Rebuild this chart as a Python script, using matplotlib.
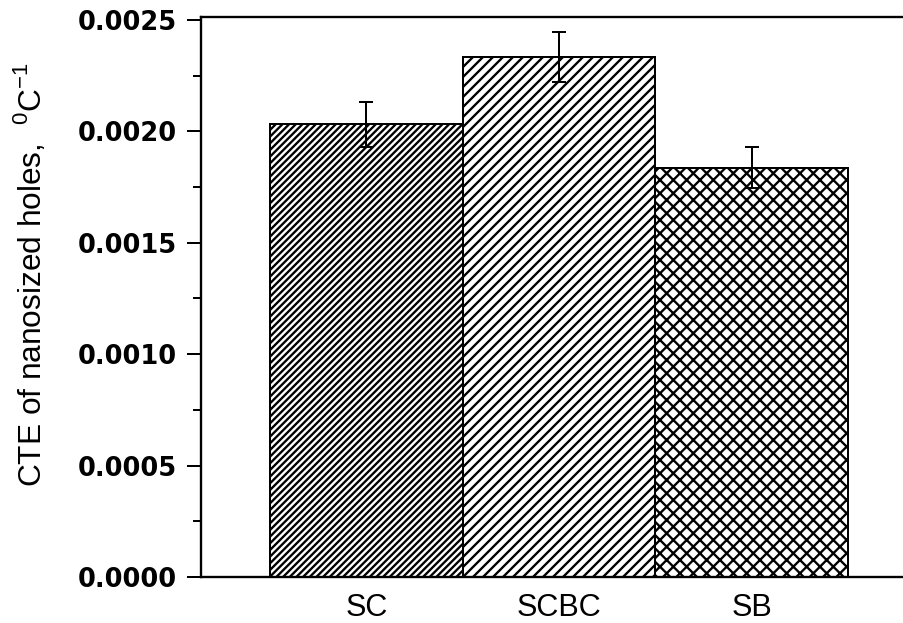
import matplotlib
matplotlib.use("Agg")
import matplotlib.pyplot as plt

# values
samples = ["SC", "SCBC", "SB"]
cte = [0.002032, 0.002334, 0.001836]
cte_err = [0.000101, 0.000112, 0.000092]
hatches = ["/" * 12, "/" * 8, "x" * 6]

DPI = 240
plt.rcParams["font.family"] = ["Liberation Sans", "DejaVu Sans"]
plt.rcParams["mathtext.fontset"] = "custom"
plt.rcParams["mathtext.rm"] = "Liberation Sans"
plt.rcParams["hatch.linewidth"] = 0.7
plt.rcParams["hatch.color"] = "black"

fig = plt.figure(figsize=(903 / DPI, 623 / DPI), dpi=DPI)
ax = fig.add_axes([201 / 903, 1 - 577 / 623, 702 / 903, 560 / 623])

pos = list(range(len(samples)))
for i in pos:
    ax.bar(pos[i], cte[i], width=1.0, color="white", edgecolor="black",
           linewidth=0.6, hatch=hatches[i], zorder=2)
ax.errorbar(pos, cte, yerr=cte_err, fmt="none", ecolor="black",
            elinewidth=0.6, capsize=2.1, capthick=0.6, zorder=3)

ax.set_xlim(-0.858, 2.785)
ax.set_ylim(0, 0.002513)

ax.spines["right"].set_visible(False)
for s in ("left", "bottom", "top"):
    ax.spines[s].set_linewidth(0.7)

ax.set_yticks([0, 0.0005, 0.0010, 0.0015, 0.0020, 0.0025])
ax.set_yticks([0.00025, 0.00075, 0.00125, 0.00175, 0.00225], minor=True)
ax.set_yticklabels(["%.4f" % v for v in ax.get_yticks()],
                   family="DejaVu Sans", fontweight="bold", fontsize=7.7)
ax.tick_params(axis="y", which="major", direction="out", length=4.2,
               width=0.6, pad=3)
ax.tick_params(axis="y", which="minor", direction="out", length=2.4,
               width=0.6)

ax.set_xticks(pos)
ax.set_xticklabels(samples, fontsize=9.2)
ax.set_xticks([pos[1]], minor=True)
ax.tick_params(axis="x", which="major", length=0, pad=4.8)
ax.tick_params(axis="x", which="minor", direction="out", length=2.4,
               width=0.6)

ax.set_ylabel("CTE of nanosized holes,  $^{0}$C$^{-1}$", fontsize=9.5)
ax.yaxis.set_label_coords(-0.218, 0.54)

fig.savefig("out.png", dpi=DPI)
